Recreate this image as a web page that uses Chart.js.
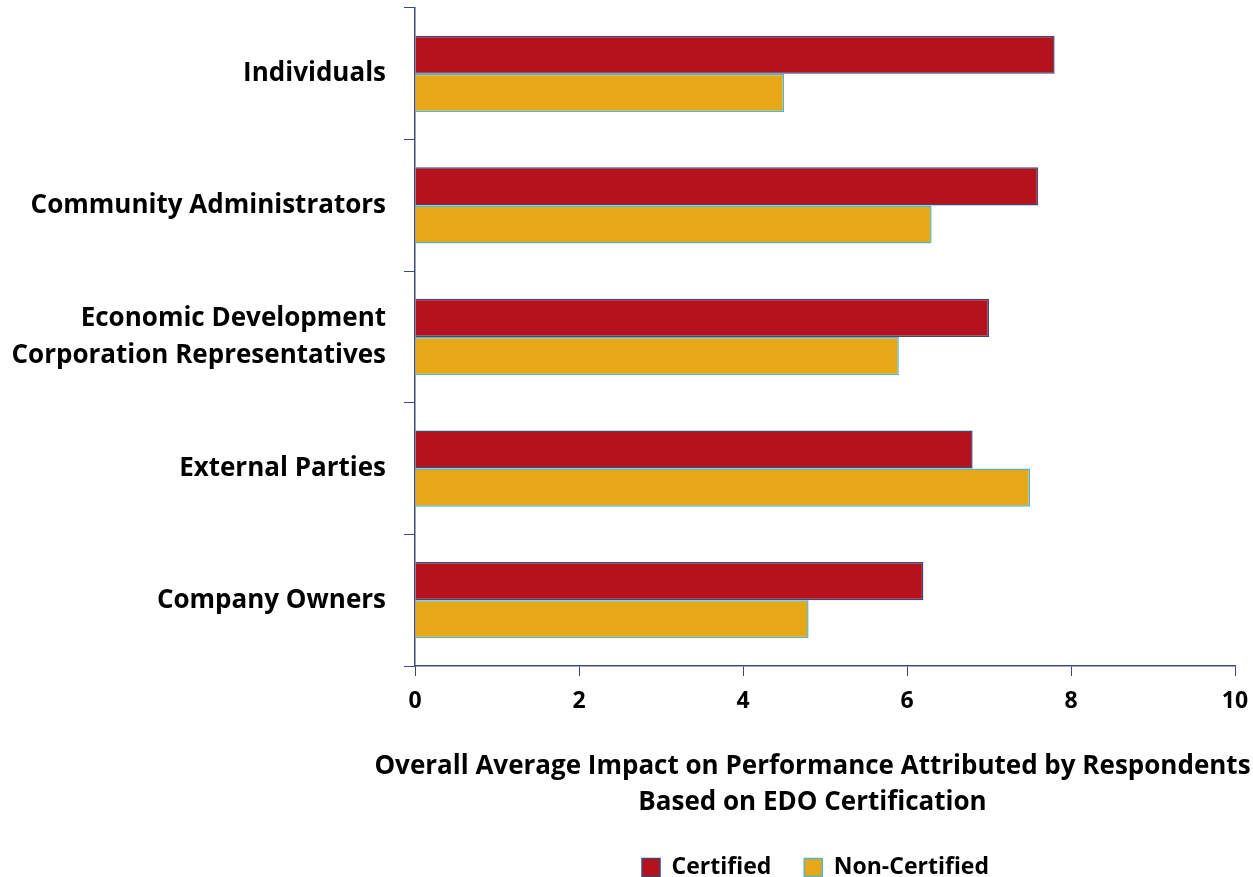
<!DOCTYPE html>
<html>
<head>
<meta charset="utf-8">
<script src="https://cdn.jsdelivr.net/npm/chart.js@4"></script>
<style>
  html, body { margin: 0; padding: 0; background: #fff; }
  #wrap { width: 1253px; height: 877px; }
</style>
</head>
<body>
<div id="wrap"><canvas id="edoChart" width="1253" height="877"></canvas></div>
<script>
// Data
const categories = [
  'Individuals',
  'Community Administrators',
  ['Economic Development', 'Corporation Representatives'],
  'External Parties',
  'Company Owners'
];
const certified = [7.8, 7.6, 7.0, 6.8, 6.2];
const nonCertified = [4.5, 6.3, 5.9, 7.5, 4.8];
const xTicks = [0, 2, 4, 6, 8, 10];
const axisTitle = ['Overall Average Impact on Performance Attributed by Respondents', 'Based on EDO Certification'];

const FONT = '"Open Sans", "Noto Sans", sans-serif';
const axisColor = '#3c4a78';
const PLOT_BOTTOM = 666;

// Place the axis title and legend under the right part of the plot, like the original
const placeBlocks = {
  id: 'placeBlocks',
  afterLayout(chart) {
    const tb = chart.titleBlock;
    if (tb) {
      tb.left += 195; tb.right += 195;
      tb.top = 749; tb.bottom = tb.top + tb.height;
    }
    const lg = chart.legend;
    if (lg) {
      lg.left += 198; lg.right += 198;
      lg.top = 823; lg.bottom = lg.top + lg.height;
    }
  }
};

const ctx = document.getElementById('edoChart').getContext('2d');
const edoChart = new Chart(ctx, {
  type: 'bar',
  data: {
    labels: categories,
    datasets: [{
      label: 'Certified',
      data: certified,
      backgroundColor: '#b5121e',
      borderColor: '#3c4a78',
      borderWidth: 1.5,
      borderSkipped: 'start',
      categoryPercentage: 0.58,
      barPercentage: 1.0
    }, {
      label: 'Non-Certified',
      data: nonCertified,
      backgroundColor: '#e6a817',
      borderColor: '#4fb8d0',
      borderWidth: 1.5,
      borderSkipped: 'start',
      categoryPercentage: 0.58,
      barPercentage: 1.0
    }]
  },
  options: {
    indexAxis: 'y',
    responsive: false,
    animation: false,
    layout: { padding: { top: 8, right: 18, left: 0, bottom: 0 } },
    scales: {
      x: {
        min: 0,
        max: 10,
        afterBuildTicks: (scale) => { scale.ticks = xTicks.map(v => ({ value: v })); },
        border: { color: axisColor, width: 1.5 },
        grid: { drawOnChartArea: false, drawTicks: true, tickLength: 10, color: axisColor },
        ticks: {
          color: '#000',
          padding: 12,
          font: { family: FONT, size: 23, weight: 'bold' }
        },
        afterFit: (scale) => {
          const c = scale.chart;
          const lgH = c.legend ? c.legend.height : 66;
          const tbH = c.titleBlock ? c.titleBlock.height : 70;
          scale.height = 877 - PLOT_BOTTOM - lgH - tbH;
          scale.paddingRight = 0;
        }
      },
      y: {
        border: { color: axisColor, width: 1.5 },
        grid: { drawOnChartArea: false, drawTicks: true, tickLength: 11, color: axisColor, offset: true },
        ticks: {
          color: '#000',
          padding: 18,
          font: { family: FONT, size: 26, weight: 'bold', lineHeight: 1.45 }
        },
        afterFit: (scale) => {
          scale.width = 415;
          scale.paddingTop = 0;
          scale.paddingBottom = 0;
        }
      }
    },
    plugins: {
      title: {
        display: true,
        position: 'bottom',
        weight: 500,
        text: axisTitle,
        color: '#000',
        padding: 0,
        font: { family: FONT, size: 26, weight: 'bold', lineHeight: 1.38 }
      },
      legend: {
        position: 'bottom',
        labels: {
          color: '#000',
          boxWidth: 18,
          boxHeight: 18,
          padding: 33,
          font: { family: FONT, size: 23, weight: 'bold' }
        }
      },
      tooltip: { enabled: false }
    }
  },
  plugins: [placeBlocks]
});
</script>
</body>
</html>
